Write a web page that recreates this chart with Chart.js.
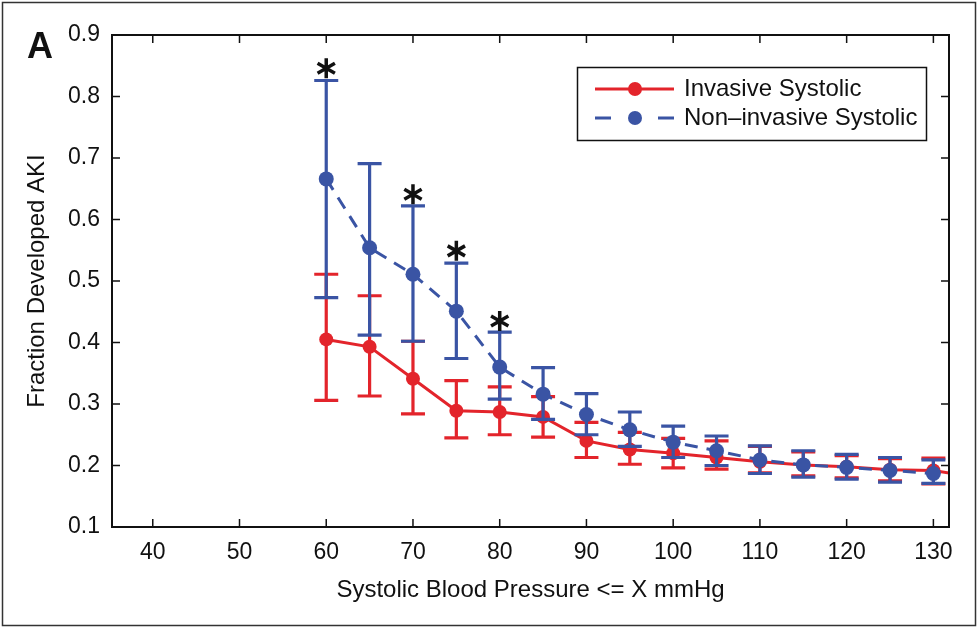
<!DOCTYPE html>
<html>
<head>
<meta charset="utf-8">
<script src="https://cdn.jsdelivr.net/npm/chart.js@4"></script>
<style>
html, body { margin: 0; padding: 0; background: #fff; }
</style>
</head>
<body>
<canvas id="akiChart" width="980" height="630"></canvas>
<script>
// systolic threshold (mmHg)
var sbpX = [60, 65, 70, 75, 80, 85, 90, 95, 100, 105, 110, 115, 120, 125, 130, 135];

// invasive systolic: fraction with AKI and error bar ends
var invMean = [0.405, 0.393, 0.341, 0.289, 0.287, 0.279, 0.240, 0.226, 0.220, 0.213, 0.206, 0.201, 0.198, 0.193, 0.192, 0.180];
var invHigh = [0.511, 0.476, 0.402, 0.338, 0.328, 0.312, 0.270, 0.254, 0.244, 0.240, 0.231, 0.222, 0.216, 0.211, 0.212, null];
var invLow  = [0.306, 0.313, 0.284, 0.245, 0.250, 0.246, 0.213, 0.202, 0.196, 0.194, 0.188, 0.183, 0.180, 0.175, 0.170, null];

// non-invasive systolic
var nonMean = [0.666, 0.554, 0.511, 0.451, 0.360, 0.316, 0.283, 0.258, 0.238, 0.224, 0.209, 0.201, 0.197, 0.192, 0.187, null];
var nonHigh = [0.826, 0.691, 0.622, 0.529, 0.417, 0.359, 0.317, 0.287, 0.264, 0.248, 0.232, 0.224, 0.218, 0.213, 0.209, null];
var nonLow  = [0.473, 0.412, 0.402, 0.374, 0.308, 0.275, 0.250, 0.231, 0.213, 0.200, 0.187, 0.181, 0.178, 0.173, 0.171, null];

// significance markers
var starX = [60, 70, 75, 80];
var starY = [0.846, 0.641, 0.549, 0.435];

var xTicks = [40, 50, 60, 70, 80, 90, 100, 110, 120, 130];
var yTicks = [0.1, 0.2, 0.3, 0.4, 0.5, 0.6, 0.7, 0.8, 0.9];

var RED = '#e3242b';
var BLUE = '#3a54a4';
var FONT = '"Liberation Sans", Arial, Helvetica, sans-serif';

function toPoints(xs, ys) {
    var out = [];
    for (var i = 0; i < xs.length; i++) out.push({x: xs[i], y: ys[i]});
    return out;
}

function drawErrorBars(chart, lows, highs, color) {
    var ctx = chart.ctx, xs = chart.scales.x, ys = chart.scales.y, area = chart.chartArea;
    ctx.save();
    ctx.strokeStyle = color;
    ctx.lineWidth = 3.2;
    for (var i = 0; i < sbpX.length; i++) {
        if (lows[i] == null || highs[i] == null) continue;
        var px = xs.getPixelForValue(sbpX[i]);
        if (px < area.left || px > area.right) continue;
        var y1 = ys.getPixelForValue(lows[i]);
        var y2 = ys.getPixelForValue(highs[i]);
        ctx.beginPath();
        ctx.moveTo(px, y1); ctx.lineTo(px, y2);
        ctx.moveTo(px - 12, y1); ctx.lineTo(px + 12, y1);
        ctx.moveTo(px - 12, y2); ctx.lineTo(px + 12, y2);
        ctx.stroke();
    }
    ctx.restore();
}

function drawStar(ctx, cx, cy, r) {
    ctx.beginPath();
    for (var k = 0; k < 3; k++) {
        var a = Math.PI / 2 + k * Math.PI / 3;
        ctx.moveTo(cx + r * Math.cos(a), cy - r * Math.sin(a));
        ctx.lineTo(cx - r * Math.cos(a), cy + r * Math.sin(a));
    }
    ctx.stroke();
}

var extras = {
    id: 'extras',
    beforeDatasetDraw: function(chart, args) {
        if (args.index === 0) drawErrorBars(chart, invLow, invHigh, RED);
        if (args.index === 1) drawErrorBars(chart, nonLow, nonHigh, BLUE);
    },
    afterDraw: function(chart) {
        var ctx = chart.ctx, a = chart.chartArea, xs = chart.scales.x, ys = chart.scales.y;
        ctx.save();

        // asterisks
        ctx.strokeStyle = '#111';
        ctx.lineWidth = 3.5;
        for (var i = 0; i < starX.length; i++) {
            drawStar(ctx, xs.getPixelForValue(starX[i]), ys.getPixelForValue(starY[i]), 10);
        }

        // axes box with inward ticks
        ctx.strokeStyle = '#111';
        ctx.lineWidth = 2;
        ctx.strokeRect(a.left, a.top, a.right - a.left, a.bottom - a.top);
        ctx.lineWidth = 1.5;
        ctx.beginPath();
        xTicks.forEach(function(v) {
            var px = xs.getPixelForValue(v);
            ctx.moveTo(px, a.bottom); ctx.lineTo(px, a.bottom - 8);
            ctx.moveTo(px, a.top); ctx.lineTo(px, a.top + 8);
        });
        yTicks.forEach(function(v) {
            var py = ys.getPixelForValue(v);
            ctx.moveTo(a.left, py); ctx.lineTo(a.left + 8, py);
            ctx.moveTo(a.right, py); ctx.lineTo(a.right - 8, py);
        });
        ctx.stroke();

        // legend
        ctx.fillStyle = '#fff';
        ctx.fillRect(577.5, 67.5, 349, 73);
        ctx.lineWidth = 1.5;
        ctx.strokeRect(577.5, 67.5, 349, 73);
        ctx.lineWidth = 3;
        ctx.strokeStyle = RED;
        ctx.beginPath(); ctx.moveTo(595, 89); ctx.lineTo(674, 89); ctx.stroke();
        ctx.fillStyle = RED;
        ctx.beginPath(); ctx.arc(635, 89, 7, 0, Math.PI * 2); ctx.fill();
        ctx.strokeStyle = BLUE;
        ctx.beginPath();
        ctx.moveTo(595, 118); ctx.lineTo(611, 118);
        ctx.moveTo(658, 118); ctx.lineTo(674, 118);
        ctx.stroke();
        ctx.fillStyle = BLUE;
        ctx.beginPath(); ctx.arc(635, 118, 7, 0, Math.PI * 2); ctx.fill();
        ctx.fillStyle = '#111';
        ctx.font = '24px ' + FONT;
        ctx.textBaseline = 'middle';
        ctx.textAlign = 'left';
        ctx.fillText('Invasive Systolic', 684, 89);
        ctx.fillText('Non\u2013invasive Systolic', 684, 118);

        // panel letter
        ctx.font = 'bold 36px ' + FONT;
        ctx.textBaseline = 'alphabetic';
        ctx.fillText('A', 27, 58);

        // outer frame
        ctx.strokeStyle = '#333';
        ctx.lineWidth = 1.5;
        ctx.strokeRect(2.5, 2.5, 973, 623);
        ctx.restore();
    }
};

var chart = new Chart(document.getElementById('akiChart'), {
    type: 'line',
    data: {
        datasets: [{
            label: 'Invasive Systolic',
            data: toPoints(sbpX, invMean),
            borderColor: RED,
            backgroundColor: RED,
            borderWidth: 3,
            pointRadius: 7,
            pointBorderWidth: 0,
            pointBackgroundColor: RED,
            order: 2
        }, {
            label: 'Non-invasive Systolic',
            data: toPoints(sbpX, nonMean),
            borderColor: BLUE,
            backgroundColor: BLUE,
            borderWidth: 3,
            borderDash: [13, 9],
            pointRadius: 7.5,
            pointBorderWidth: 0,
            pointBackgroundColor: BLUE,
            order: 1
        }]
    },
    options: {
        responsive: false,
        animation: false,
        spanGaps: false,
        layout: { padding: { left: 0, top: 35, right: 31, bottom: 0 } },
        plugins: {
            legend: { display: false },
            tooltip: { enabled: false }
        },
        scales: {
            x: {
                type: 'linear',
                min: 35.3,
                max: 131.8,
                afterBuildTicks: function(s) { s.ticks = xTicks.map(function(v) { return {value: v}; }); },
                afterFit: function(s) { s.height = 103; },
                grid: { display: false },
                border: { display: false },
                ticks: { color: '#111', padding: 4, font: { family: FONT, size: 23 } },
                title: {
                    display: true,
                    text: 'Systolic Blood Pressure <= X mmHg',
                    color: '#111',
                    padding: { bottom: 25 },
                    font: { family: FONT, size: 24 }
                }
            },
            y: {
                min: 0.1,
                max: 0.9,
                afterBuildTicks: function(s) { s.ticks = yTicks.map(function(v) { return {value: v}; }); },
                afterFit: function(s) { s.width = 112; },
                grid: { display: false },
                border: { display: false },
                ticks: {
                    color: '#111',
                    padding: 4,
                    font: { family: FONT, size: 23 },
                    callback: function(v) { return v.toFixed(1); }
                },
                title: {
                    display: true,
                    text: 'Fraction Developed AKI',
                    color: '#111',
                    padding: { top: 23 },
                    font: { family: FONT, size: 24 }
                }
            }
        }
    },
    plugins: [extras]
});
</script>
</body>
</html>
